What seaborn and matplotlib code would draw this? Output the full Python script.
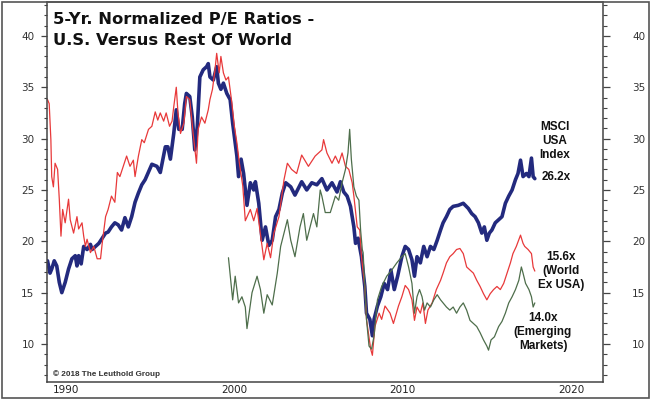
import matplotlib
matplotlib.use("Agg")
import matplotlib.pyplot as plt
from matplotlib.ticker import MultipleLocator, FixedLocator
from matplotlib.transforms import ScaledTranslation
from matplotlib.patches import Rectangle
import pandas as pd
import seaborn as sns

# MSCI USA 5-yr normalized P/E (decimal year, ratio)
usa_years = [1989.85, 1990.0, 1990.1, 1990.25, 1990.4, 1990.55, 1990.7, 1990.9, 1991.1, 1991.3,
             1991.5, 1991.6, 1991.7, 1991.85, 1992.0, 1992.2, 1992.4, 1992.5, 1992.7, 1992.9,
             1993.1, 1993.3, 1993.45, 1993.65, 1993.85, 1994.05, 1994.25, 1994.45, 1994.65, 1994.85,
             1995.05, 1995.25, 1995.45, 1995.65, 1996.05, 1996.35, 1996.55, 1996.85, 1997.0, 1997.15,
             1997.35, 1997.5, 1997.65, 1997.85, 1998.0, 1998.1, 1998.3, 1998.45, 1998.6, 1998.75,
             1998.9, 1999.1, 1999.3, 1999.4, 1999.5, 1999.7, 1999.9, 2000.0, 2000.15, 2000.3,
             2000.5, 2000.7, 2000.85, 2001.0, 2001.1, 2001.2, 2001.35, 2001.5, 2001.7, 2001.9,
             2002.1, 2002.2, 2002.4, 2002.6, 2002.8, 2003.0, 2003.2, 2003.4, 2003.6, 2003.8,
             2004.0, 2004.3, 2004.55, 2004.95, 2005.25, 2005.55, 2005.85, 2006.15, 2006.45, 2006.75,
             2007.05, 2007.25, 2007.45, 2007.65, 2007.85, 2008.05, 2008.15, 2008.3, 2008.5, 2008.7,
             2008.8, 2009.0, 2009.15, 2009.25, 2009.45, 2009.65, 2009.85, 2010.05, 2010.25, 2010.45,
             2010.65, 2010.9, 2011.1, 2011.3, 2011.5, 2011.65, 2011.8, 2012.0, 2012.2, 2012.4,
             2012.6, 2012.8, 2013.0, 2013.2, 2013.35, 2013.55, 2013.75, 2013.95, 2014.25, 2014.55,
             2014.85, 2015.05, 2015.25, 2015.45, 2015.65, 2015.8, 2015.95, 2016.1, 2016.25, 2016.45,
             2016.65, 2016.85, 2017.05, 2017.25, 2017.45, 2017.65, 2017.8, 2017.95, 2018.1, 2018.3,
             2018.45, 2018.6, 2018.7, 2018.8]
usa_pe = [18.1, 16.9, 17.3, 18.1, 17.6, 16.0, 15.0, 16.0, 17.3, 18.3,
          18.6, 17.6, 18.6, 17.8, 19.5, 19.2, 19.7, 19.2, 19.5, 19.8,
          20.3, 20.8, 20.9, 21.4, 21.8, 21.6, 21.1, 22.3, 21.4, 22.4,
          23.8, 24.7, 25.5, 26.0, 27.5, 27.3, 26.7, 29.2, 29.2, 28.0,
          30.5, 32.8, 30.9, 30.9, 33.4, 34.4, 34.1, 32.1, 28.9, 31.2,
          36.0, 36.7, 37.0, 37.3, 36.0, 35.7, 37.0, 35.4, 34.8, 35.4,
          34.4, 33.8, 31.5, 29.6, 28.3, 26.3, 28.0, 26.6, 23.5, 25.7,
          25.0, 25.8, 23.7, 20.1, 21.4, 19.6, 20.1, 22.4, 23.1, 24.7,
          25.7, 25.3, 24.5, 25.8, 25.0, 25.7, 25.5, 26.1, 25.0, 25.7,
          24.8, 25.8, 24.8, 24.4, 23.4, 21.4, 19.8, 20.3, 18.5, 15.6,
          13.0, 12.4, 10.8, 12.4, 13.7, 14.6, 15.9, 15.3, 17.2, 15.3,
          16.6, 18.5, 19.5, 19.2, 18.2, 16.6, 18.5, 17.9, 19.5, 18.5,
          19.5, 19.2, 20.1, 21.1, 21.8, 22.4, 23.1, 23.4, 23.5, 23.7,
          23.2, 22.7, 22.4, 21.8, 20.8, 21.4, 20.1, 20.8, 21.1, 21.8,
          22.1, 22.4, 23.7, 24.4, 25.0, 26.0, 26.6, 27.9, 26.3, 26.6,
          26.3, 28.1, 26.3, 26.1]

# MSCI World ex USA
world_years = [1989.85, 1989.95, 1990.05, 1990.1, 1990.2, 1990.3, 1990.45, 1990.55, 1990.65, 1990.75,
               1990.9, 1991.1, 1991.2, 1991.4, 1991.6, 1991.7, 1991.9, 1992.0, 1992.1, 1992.2,
               1992.4, 1992.6, 1992.8, 1993.0, 1993.1, 1993.3, 1993.45, 1993.65, 1993.85, 1994.0,
               1994.15, 1994.35, 1994.55, 1994.75, 1994.95, 1995.05, 1995.25, 1995.45, 1995.6, 1995.85,
               1996.05, 1996.25, 1996.4, 1996.55, 1996.75, 1996.9, 1997.1, 1997.25, 1997.35, 1997.5,
               1997.6, 1997.75, 1997.95, 1998.1, 1998.3, 1998.5, 1998.7, 1998.8, 1999.0, 1999.2,
               1999.4, 1999.5, 1999.65, 1999.8, 1999.9, 2000.05, 2000.15, 2000.3, 2000.45, 2000.6,
               2000.8, 2000.95, 2001.1, 2001.25, 2001.45, 2001.6, 2001.9, 2002.1, 2002.3, 2002.6,
               2002.7, 2002.9, 2003.1, 2003.3, 2003.6, 2003.9, 2004.1, 2004.35, 2004.65, 2004.95,
               2005.35, 2005.75, 2006.15, 2006.25, 2006.45, 2006.75, 2006.95, 2007.15, 2007.35, 2007.55,
               2007.75, 2007.95, 2008.05, 2008.25, 2008.4, 2008.5, 2008.7, 2008.8, 2009.05, 2009.15,
               2009.3, 2009.55, 2009.7, 2009.9, 2010.2, 2010.4, 2010.7, 2010.9, 2011.1, 2011.3,
               2011.5, 2011.65, 2011.8, 2012.0, 2012.15, 2012.3, 2012.45, 2012.7, 2012.95, 2013.2,
               2013.35, 2013.55, 2013.75, 2013.95, 2014.15, 2014.35, 2014.55, 2014.75, 2014.95, 2015.15,
               2015.35, 2015.55, 2015.75, 2015.95, 2016.15, 2016.35, 2016.55, 2016.75, 2016.95, 2017.15,
               2017.35, 2017.5, 2017.7, 2017.95, 2018.1, 2018.2, 2018.4, 2018.6, 2018.7, 2018.8]
world_pe = [33.8, 33.4, 29.9, 26.3, 25.3, 27.6, 27.0, 24.1, 20.5, 23.1,
            21.8, 24.1, 22.1, 20.8, 22.4, 21.2, 21.8, 20.5, 19.5, 20.2,
            18.9, 19.5, 18.3, 18.3, 19.8, 22.4, 23.1, 24.4, 23.8, 26.7,
            26.3, 27.3, 28.3, 27.3, 27.9, 26.3, 28.3, 29.9, 29.6, 30.9,
            31.2, 32.6, 31.8, 32.5, 31.7, 32.5, 31.2, 31.7, 33.1, 35.0,
            32.5, 30.5, 31.5, 34.1, 33.8, 30.5, 27.6, 30.9, 32.1, 31.5,
            32.8, 33.8, 34.8, 36.7, 38.3, 36.4, 38.0, 36.4, 35.7, 36.0,
            33.5, 31.2, 29.6, 27.6, 25.4, 22.0, 23.1, 22.0, 23.2, 19.5,
            18.2, 19.8, 18.4, 20.8, 22.4, 26.0, 27.6, 27.0, 26.6, 28.4,
            27.3, 28.3, 28.9, 29.9, 28.6, 27.6, 28.3, 27.6, 28.6, 27.3,
            27.0, 25.7, 24.4, 21.4, 21.1, 18.5, 15.6, 12.4, 9.5, 8.9,
            11.7, 13.0, 12.4, 13.7, 13.0, 12.0, 13.7, 14.6, 15.7, 15.3,
            14.3, 12.3, 13.6, 13.0, 14.0, 12.0, 13.3, 14.0, 15.3, 16.2,
            16.9, 17.9, 18.5, 18.8, 19.2, 19.3, 18.8, 17.5, 17.2, 16.9,
            16.2, 15.6, 14.9, 14.3, 14.9, 15.3, 15.6, 15.3, 15.9, 16.9,
            17.9, 18.8, 19.5, 20.6, 19.8, 19.5, 19.2, 18.8, 17.5, 17.1]

# MSCI Emerging Markets
em_years = [2000.6, 2000.85, 2001.0, 2001.2, 2001.4, 2001.6, 2001.7, 2002.0, 2002.3, 2002.5,
            2002.7, 2002.9, 2003.2, 2003.5, 2003.7, 2004.1, 2004.3, 2004.55, 2004.85, 2005.05,
            2005.25, 2005.65, 2005.85, 2006.05, 2006.15, 2006.35, 2006.65, 2006.95, 2007.15, 2007.35,
            2007.55, 2007.7, 2007.8, 2007.9, 2008.05, 2008.2, 2008.35, 2008.45, 2008.55, 2008.6,
            2008.8, 2008.95, 2009.1, 2009.25, 2009.45, 2009.7, 2010.0, 2010.3, 2010.6, 2010.9,
            2011.1, 2011.3, 2011.5, 2011.65, 2011.8, 2011.95, 2012.1, 2012.25, 2012.4, 2012.6,
            2012.8, 2013.0, 2013.2, 2013.35, 2013.55, 2013.75, 2013.95, 2014.15, 2014.35, 2014.55,
            2014.75, 2014.95, 2015.15, 2015.35, 2015.55, 2015.75, 2015.95, 2016.05, 2016.2, 2016.4,
            2016.65, 2016.85, 2017.05, 2017.25, 2017.45, 2017.65, 2017.85, 2018.0, 2018.1, 2018.25,
            2018.45, 2018.6, 2018.7, 2018.8]
em_pe = [18.4, 14.3, 16.6, 14.0, 14.6, 13.6, 11.5, 15.0, 16.6, 15.3,
         13.0, 14.8, 13.8, 16.9, 19.5, 22.1, 20.1, 18.5, 21.4, 22.7,
         20.1, 22.7, 21.4, 25.0, 24.4, 22.8, 22.8, 24.4, 24.0, 25.7,
         27.0, 28.6, 30.9, 28.0, 25.3, 24.4, 24.0, 21.1, 19.2, 18.9,
         12.4, 9.8, 9.5, 10.8, 14.3, 15.6, 16.6, 17.2, 17.9, 18.5,
         18.8, 17.5, 15.9, 13.0, 14.6, 15.3, 14.6, 13.3, 14.0, 13.6,
         14.3, 14.8, 14.3, 14.0, 13.6, 13.3, 13.6, 13.0, 13.6, 14.0,
         13.3, 12.3, 12.0, 11.7, 11.1, 10.4, 9.8, 9.4, 10.4, 10.7,
         11.7, 12.2, 13.0, 14.0, 14.6, 15.3, 16.2, 17.5, 16.9, 15.9,
         15.3, 14.6, 13.6, 14.0]

y_ticks = [10, 15, 20, 25, 30, 35, 40]
x_ticks = [1990, 2000, 2010, 2020]

NAVY = "#232a7e"
RED = "#e8393a"
GREEN = "#4e6e4b"
W, H = 650, 399

sns.set_style("white")
plt.rcParams["font.family"] = ["DejaVu Sans"]

fig = plt.figure(figsize=(6.5, 3.99), dpi=100)
ax = fig.add_axes([47 / W, 1 - 382 / H, (603 - 47) / W, (382 - 2) / H])

series = [
    (pd.DataFrame({"year": usa_years, "pe": usa_pe}), NAVY, 2.6),
    (pd.DataFrame({"year": world_years, "pe": world_pe}), RED, 0.9),
    (pd.DataFrame({"year": em_years, "pe": em_pe}), GREEN, 0.9),
]
for df, col, lw in series:
    sns.lineplot(data=df, x="year", y="pe", color=col, linewidth=lw,
                 sort=False, estimator=None, ax=ax)

ax.set_xlim(1989.82, 2022.85)
ax.set_ylim(6.3, 43.3)
ax.set_xlabel("")
ax.set_ylabel("")

for s in ax.spines.values():
    s.set_color("#444444")
    s.set_linewidth(1.1)

# y axis (left + right copy)
ax.yaxis.set_major_locator(FixedLocator(y_ticks))
ax.yaxis.set_minor_locator(MultipleLocator(1))
ax.tick_params(axis="y", which="major", direction="out", length=4, width=0.9,
               color="#444444", labelsize=7.5, labelcolor="#333333", pad=5)
ax.tick_params(axis="y", which="minor", direction="out", length=2.5, width=0.8, color="#444444")

ax2 = ax.twinx()
ax2.set_ylim(ax.get_ylim())
ax2.yaxis.set_major_locator(FixedLocator(y_ticks))
ax2.yaxis.set_minor_locator(MultipleLocator(1))
ax2.tick_params(axis="y", which="major", direction="out", length=5, width=0.9,
                color="#444444", labelsize=7.5, labelcolor="#333333", pad=16)
ax2.tick_params(axis="y", which="minor", direction="out", length=3, width=0.8, color="#444444")
for s in ax2.spines.values():
    s.set_visible(False)

# x axis: long major ticks, labels sitting right of the tick
ax.xaxis.set_major_locator(FixedLocator(x_ticks))
ax.xaxis.set_minor_locator(MultipleLocator(1))
ax.set_xticklabels([str(v) for v in x_ticks], ha="left")
ax.tick_params(axis="x", which="major", direction="out", length=10.5, width=0.9,
               color="#444444", labelsize=7.5, labelcolor="#222222", pad=-8.5)
ax.tick_params(axis="x", which="minor", direction="out", length=2.5, width=0.8, color="#444444")
shift = ScaledTranslation(2 / 72, 0, fig.dpi_scale_trans)
for lab in ax.get_xticklabels():
    lab.set_transform(lab.get_transform() + shift)

# title and notes
fig.text(53 / W, 1 - 24 / H, "5-Yr. Normalized P/E Ratios -", fontsize=11.8, fontweight="bold",
         color="#111111", va="baseline", ha="left")
fig.text(53 / W, 1 - 45 / H, "U.S. Versus Rest Of World", fontsize=11.8, fontweight="bold",
         color="#111111", va="baseline", ha="left")
fig.text(53 / W, 1 - 374 / H, "\u00a9 2018 The Leuthold Group", fontsize=5.9, fontweight="bold",
         color="#333333", va="center", ha="left", family="Liberation Sans")

lab_kw = dict(fontsize=8.5, fontweight="bold", family="Liberation Sans", color="#111111",
              ha="center", va="center", linespacing=1.2)
fig.text(555 / W, 1 - 141 / H, "MSCI\nUSA\nIndex", **lab_kw)
fig.text(542 / W, 1 - 177 / H, "26.2x", **dict(lab_kw, ha="left"))
fig.text(561 / W, 1 - 271 / H, "15.6x\n(World\nEx USA)", **lab_kw)
fig.text(543 / W, 1 - 332 / H, "14.0x\n(Emerging\nMarkets)", **lab_kw)

fig.patches.append(Rectangle((1.5 / W, 1.5 / H), (W - 3) / W, (H - 3) / H, transform=fig.transFigure,
                             fill=False, edgecolor="#555555", linewidth=1.2))

fig.savefig("out.png", dpi=100)
